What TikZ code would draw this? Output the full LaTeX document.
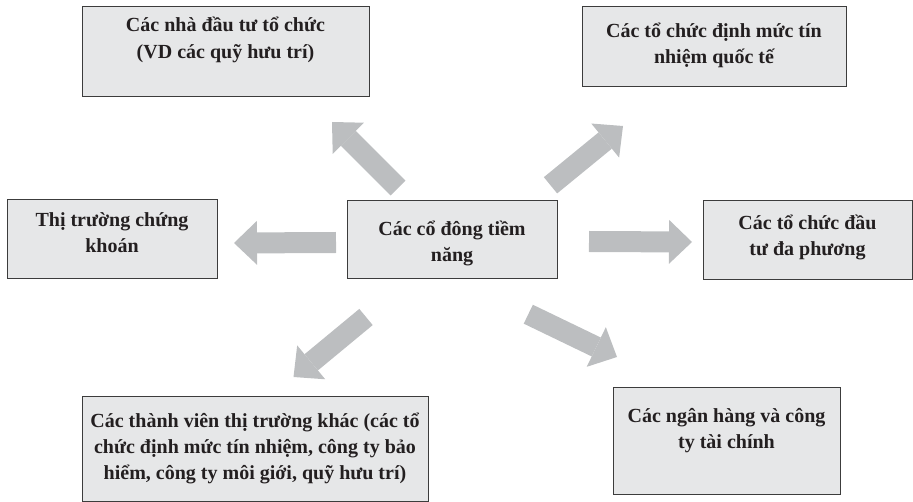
\documentclass[tikz,border=0pt]{standalone}
\usepackage{fontspec}
\setmainfont{Liberation Serif}
\usetikzlibrary{arrows.meta}
\definecolor{boxfill}{HTML}{E6E7E8}
\definecolor{boxline}{HTML}{3C3C3C}
\definecolor{arrowgray}{HTML}{BCBEC0}
\definecolor{inktext}{HTML}{231F20}
\tikzset{
  box/.style={draw=boxline, line width=1pt, fill=boxfill, inner sep=0pt},
  lbl/.style={anchor=base, inner sep=0pt, text=inktext, font=\bfseries\fontsize{20}{26}\selectfont},
  blockarrow/.style={draw=arrowgray, line width=21pt, -{Triangle[width=44pt,length=23pt,line width=0pt]}},
}
\newcommand{\boxlines}[2]{\parbox[t]{#1}{\centering #2}}
\begin{document}
\begin{tikzpicture}[x=1pt,y=-1pt]
\useasboundingbox (0,0) rectangle (913,502);
% boxes
\node[box, minimum width=287pt, minimum height=90pt] (b1) at (225.5,52) {};
\node[box, minimum width=264pt, minimum height=80pt] (b2) at (714,47) {};
\node[box, minimum width=210pt, minimum height=79pt] (b3) at (112,239.5) {};
\node[box, minimum width=210pt, minimum height=78pt] (c) at (452,240) {};
\node[box, minimum width=209pt, minimum height=79pt] (b4) at (807.5,240.5) {};
\node[box, minimum width=346pt, minimum height=104pt] (b5) at (255,449) {};
\node[box, minimum width=227pt, minimum height=106pt] (b6) at (726.5,441) {};
% labels
\node[lbl] (t1) at (225.5,32) {\boxlines{280pt}{Các nhà đầu tư tổ chức\\[1pt](VD các quỹ hưu trí)}};
\node[lbl] (t2) at (714,38) {\boxlines{260pt}{Các tổ chức định mức tín\\nhiệm quốc tế}};
\node[lbl] (t3) at (112,226.5) {\boxlines{205pt}{Thị trường chứng\\khoán}};
\node[lbl] (tc) at (452,236) {\boxlines{205pt}{Các cổ đông tiềm\\năng}};
\node[lbl] (t4) at (807.5,230) {\boxlines{205pt}{Các tổ chức đầu\\tư đa phương}};
\node[lbl] (t5) at (255,428) {\boxlines{344pt}{Các thành viên thị trường khác (các tổ\\chức định mức tín nhiệm, công ty bảo\\hiểm, công ty môi giới, quỹ hưu trí)}};
\node[lbl] (t6) at (726.5,423) {\boxlines{222pt}{Các ngân hàng và công\\ty tài chính}};
% arrows
\coordinate (a1s) at (398,188); \coordinate (a1e) at (332,122);
\coordinate (a2s) at (550.5,185.3); \coordinate (a2e) at (623,126);
\coordinate (a3s) at (336,242.5); \coordinate (a3e) at (234,243);
\coordinate (a4s) at (589,241.5); \coordinate (a4e) at (692,242);
\coordinate (a5s) at (366,317); \coordinate (a5e) at (293.5,377);
\coordinate (a6s) at (528.3,314.2); \coordinate (a6e) at (617,357);
\draw[blockarrow] (a1s) -- (a1e);
\draw[blockarrow] (a2s) -- (a2e);
\draw[blockarrow] (a3s) -- (a3e);
\draw[blockarrow] (a4s) -- (a4e);
\draw[blockarrow] (a5s) -- (a5e);
\draw[blockarrow] (a6s) -- (a6e);
\end{tikzpicture}
\end{document}
